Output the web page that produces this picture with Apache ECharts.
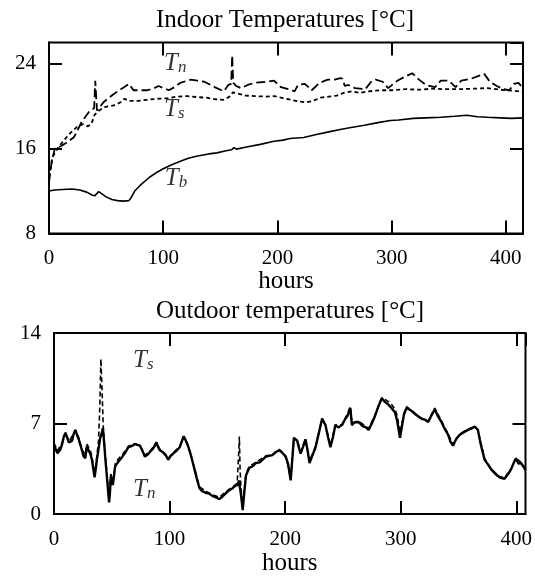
<!DOCTYPE html>
<html>
<head>
<meta charset="utf-8">
<script src="https://cdn.jsdelivr.net/npm/echarts@6/dist/echarts.min.js"></script>
<style>
  html, body { margin: 0; padding: 0; background: #fff; }
  #chart { width: 535px; height: 577px; }
</style>
</head>
<body>
<div id="chart"></div>
<script>
// ---- Indoor temperatures [°C] : [hour, value] ----
const indoorTn = [
  [0,12.8],[2,14.5],[5,16.0],[10,16.2],[16,16.6],[22,17.1],[29,18.6],[36,19.6],[39.5,19.8],[40.5,22.4],[42,19.6],
  [48,20.4],[55,21.0],[60,21.4],[66,21.8],[70,22.1],[74,21.5],[80,21.5],[86,21.5],[92,21.7],[96,21.9],[100,21.7],
  [105,21.5],[110,21.8],[115,22.2],[124,22.5],[130,22.4],[136,22.3],[145,21.8],[153,21.4],[157,22.0],[159.5,22.1],
  [160.4,24.8],[161.3,22.2],[164,21.9],[168,21.7],[174,22.0],[180,22.2],[190,22.3],[197,22.4],[203,21.8],[210,21.6],
  [215,21.4],[218,22.0],[224,22.1],[230,21.5],[237,22.2],[244,22.5],[250,22.5],[255,22.65],[257,22.6],[259,21.9],
  [262,22.0],[268,21.7],[277,21.6],[282,22.3],[286,22.5],[292,22.3],[297,21.7],[305,22.4],[312,22.8],[318,23.1],
  [324,22.5],[330,22.0],[338,21.8],[343,22.4],[350,22.4],[356,21.8],[361,22.4],[370,22.6],[381,23.05],[386,22.3],
  [392,21.9],[398,21.6],[403,21.5],[407,22.1],[411,22.2],[415,21.7]
];
const indoorTs = [
  [0,13.3],[3,15.2],[8,16.1],[14,16.9],[19,17.5],[25,18.1],[30,18.3],[34,18.1],[37,18.3],[40,19.2],[44,19.6],
  [48,19.9],[53,20.0],[58,20.1],[63,20.4],[66,20.7],[70,20.5],[78,20.5],[86,20.6],[95,20.7],[104,20.75],[112,20.9],
  [121,20.95],[130,20.85],[138,20.8],[146,20.65],[153,20.6],[158,20.9],[161,21.3],[165,21.2],[172,21.0],[180,20.95],
  [190,20.9],[197,20.95],[205,20.75],[212,20.6],[218,20.45],[225,20.35],[231,20.5],[238,20.8],[245,20.9],[252,21.0],
  [258,21.25],[265,21.4],[272,21.25],[280,21.4],[290,21.5],[300,21.5],[313,21.6],[325,21.55],[335,21.65],[348,21.6],
  [360,21.6],[372,21.65],[384,21.7],[395,21.55],[407,21.45],[415,21.35]
];
const indoorTb = [
  [0,12.0],[5,12.1],[12,12.15],[20,12.2],[27,12.1],[33,11.9],[38,11.6],[40,11.55],[43.5,11.95],[46,11.75],[50,11.45],
  [55,11.2],[60,11.1],[65,11.05],[70,11.1],[72,11.4],[75,12.0],[80,12.55],[88,13.3],[95,13.8],[100,14.1],[108,14.5],
  [115,14.8],[122,15.1],[130,15.3],[140,15.5],[147,15.6],[155,15.8],[160,15.9],[162,16.1],[164,15.95],[173,16.15],
  [185,16.4],[197,16.7],[205,16.8],[211,16.95],[223,17.05],[235,17.35],[246,17.6],[255,17.8],[262,17.95],[276,18.2],
  [288,18.45],[299,18.65],[306,18.7],[319,18.85],[330,18.9],[343,18.95],[355,19.05],[366,19.15],[375,19.0],
  [384,18.95],[395,18.9],[405,18.85],[415,18.9]
];

// ---- Outdoor temperatures [°C] : [hour, value] ----
const outdoorTn = [
  [0,5.3],[1.3,5.17],[3,4.7],[4.2,4.56],[5.5,5.0],[7,5.41],[8.5,6.0],[9.9,6.27],[11.5,5.9],[12.8,5.54],[14.2,5.5],
  [15.6,5.66],[17,6.2],[18.5,6.51],[20,6.1],[21.4,5.78],[23,5.3],[24.2,4.93],[25.5,4.5],[27.1,4.32],[28.5,5.29],
  [30,4.9],[31.4,4.68],[32.8,4.2],[34,3.5],[35.1,2.85],[36,3.4],[37.1,4.2],[38.5,5.0],[40,5.9],[41.4,6.27],[42.3,6.65],
  [43.3,5.6],[44.3,4.44],[45.7,2.98],[46.7,1.9],[47.7,0.9],[48.5,1.8],[49.2,2.98],[50.2,2.6],[50.9,2.24],[52,3.0],
  [52.9,3.7],[54.5,3.9],[55.8,4.07],[58,4.3],[60.1,4.56],[62,4.8],[64.4,5.17],[67,5.25],[70.1,5.41],[72,5.35],
  [74.4,5.29],[76.5,4.9],[78.7,4.44],[81,4.6],[83,4.8],[86,5.1],[88.7,5.54],[90,5.2],[91.6,4.93],[94,4.8],[96.5,4.6],
  [98.8,4.2],[101,4.5],[103,4.68],[106,4.9],[108.8,5.17],[110.5,5.6],[112.2,6.02],[114,5.7],[115.9,5.29],[118,4.7],
  [120.2,3.95],[122,3.3],[124,2.6],[125.9,2.0],[128,1.8],[131.6,1.63],[134,1.6],[137.4,1.39],[140,1.3],[143.1,1.15],
  [145,1.3],[148.8,1.63],[151,1.8],[154.6,2.0],[157,2.2],[158.9,2.24],[160,2.6],[161,2.0],[161.8,1.51],[163.3,0.3],
  [164.5,1.5],[166.1,2.98],[169,3.58],[172,3.7],[174.7,3.95],[178,4.0],[183.3,4.44],[186,4.5],[189,4.56],[192,4.8],
  [194.8,4.93],[197,4.8],[200.5,4.44],[202.5,3.9],[204.8,2.61],[206,4.0],[207.6,5.9],[209,5.8],[210.5,5.66],[212,5.1],
  [213.4,4.68],[215.5,5.2],[217.6,5.78],[219.5,4.9],[221.1,3.95],[223.5,4.5],[226.3,5.17],[229,6.2],[232,7.37],
  [234.9,6.88],[237,6.0],[239.2,5.17],[241.5,6.0],[243.5,6.88],[246,6.7],[249.2,6.88],[252.1,7.37],[254,7.6],
  [256.4,8.22],[257.8,6.88],[260,7.1],[263.6,7.12],[267,6.8],[270,6.7],[272.2,6.51],[275,7.0],[277.9,7.61],[281,8.4],
  [283.7,8.95],[286,8.7],[289.4,8.46],[292,8.2],[295.1,7.85],[297,7.2],[299.4,5.9],[301.5,7.0],[303,7.8],[305.2,8.22],
  [307,8.1],[309.4,7.98],[313,7.7],[318,7.37],[321,7.3],[323.8,7.12],[326.5,7.6],[329.5,8.1],[332,7.6],[335.3,7.12],
  [338,6.6],[341,6.14],[343,5.6],[345.3,5.29],[348,5.8],[351.1,6.14],[354,6.3],[358.2,6.51],[361,6.6],[364,6.76],
  [366.8,6.51],[369,5.5],[372.6,4.2],[375,3.9],[378.3,3.46],[382,3.1],[385.5,2.85],[389.8,2.73],[393,3.1],[395.5,3.46],
  [398,4.0],[399.8,4.32],[402,3.9],[404.1,3.95],[406,3.7],[408,3.4]
];
const outdoorTs = [
  [0,5.5],[3,4.9],[7,5.5],[10,6.3],[13,5.6],[18.5,6.5],[21.5,5.9],[24,5.0],[27,4.6],[28.5,5.4],[31.5,4.9],[33,4.4],
  [35.1,3.0],[37,4.4],[38.5,5.6],[39.6,8.2],[40.6,12.0],[41.6,9.5],[42.6,6.8],[44.3,4.6],[45.7,3.2],[47.7,1.2],
  [49.2,3.1],[51,2.5],[53,3.9],[56,4.3],[60,4.7],[64.4,5.25],[70,5.45],[74.4,5.3],[78.7,4.55],[83,4.85],[88.7,5.55],
  [91.6,5.0],[98.8,4.3],[103,4.75],[108.8,5.2],[112.2,6.0],[115.9,5.35],[120.2,4.0],[125.9,2.1],[131.6,1.75],
  [137.4,1.5],[143.1,1.3],[148.8,1.75],[154.6,2.1],[158.5,2.4],[159.7,4.5],[160.4,6.0],[161,3.5],[161.8,2.0],
  [163.3,0.8],[166.1,3.1],[169,3.7],[174.7,4.0],[183.3,4.5],[189,4.6],[194.8,5.0],[200.5,4.5],[204.8,2.8],[207.6,5.9],
  [210.5,5.7],[213.4,4.8],[217.6,5.8],[221.1,4.1],[226.3,5.2],[232,7.4],[234.9,6.9],[239.2,5.3],[243.5,6.9],
  [249.2,6.9],[252.1,7.4],[256.4,8.3],[257.8,7.0],[263.6,7.2],[272.2,6.6],[277.9,7.7],[283.7,9.0],[286,8.9],
  [289.4,8.7],[292,8.5],[295.1,8.1],[297,7.6],[299.4,6.3],[301.5,7.2],[305.2,8.3],[309.4,8.0],[318,7.4],[323.8,7.2],
  [329.5,8.2],[335.3,7.2],[341,6.2],[345.3,5.4],[351.1,6.2],[358.2,6.55],[364,6.8],[366.8,6.5],[372.6,4.3],
  [378.3,3.5],[385.5,2.9],[389.8,2.8],[395.5,3.5],[399.8,4.35],[404.1,4.0],[408,3.5]
];

// Axis extents and tick steps
const indoorX = { min: 0, max: 415, step: 100 };
const indoorY = { min: 8, max: 26, step: 8 };
const outdoorX = { min: 0, max: 408, step: 100 };
const outdoorY = { min: 0, max: 14, step: 7 };

// Curve name tags: [hour, value, subscript]
const indoorTags = [[100.3, 24.1, 'n'], [100.3, 19.76, 's'], [101, 13.25, 'b']];
const outdoorTags = [[68, 11.94, 's'], [68, 1.94, 'n']];

const FONT = '"Liberation Serif", "DejaVu Serif", serif';
const INK = '#000';

const tick = { show: true, inside: true, length: 13, lineStyle: { color: INK, width: 2 } };

function axesFor(grid, xr, yr, labelMarginX, labelMarginY, nameGap) {
  const xMain = {
    type: 'value', gridIndex: grid, position: 'bottom', min: xr.min, max: xr.max, interval: xr.step,
    splitLine: { show: false }, axisLine: { show: true, onZero: false, lineStyle: { color: INK, width: 2 } },
    axisTick: tick,
    axisLabel: { color: INK, fontFamily: FONT, fontSize: 21, margin: labelMarginX, showMaxLabel: xr.max % xr.step === 0 },
    name: 'hours', nameLocation: 'middle', nameGap: nameGap,
    nameTextStyle: { color: INK, fontFamily: FONT, fontSize: 25 }
  };
  const xMirror = {
    type: 'value', gridIndex: grid, position: 'top', min: xr.min, max: xr.max, interval: xr.step,
    splitLine: { show: false }, axisLine: { show: false, onZero: false }, axisTick: tick, axisLabel: { show: false }
  };
  const yMain = {
    type: 'value', gridIndex: grid, position: 'left', min: yr.min, max: yr.max, interval: yr.step,
    splitLine: { show: false }, axisLine: { show: true, onZero: false, lineStyle: { color: INK, width: 2 } },
    axisTick: tick,
    axisLabel: { color: INK, fontFamily: FONT, fontSize: 21, margin: labelMarginY, showMaxLabel: yr.max % yr.step === 0 }
  };
  const yMirror = {
    type: 'value', gridIndex: grid, position: 'right', min: yr.min, max: yr.max, interval: yr.step,
    splitLine: { show: false }, axisLine: { show: false, onZero: false }, axisTick: tick, axisLabel: { show: false }
  };
  return { x: [xMain, xMirror], y: [yMain, yMirror] };
}

const topAxes = axesFor(0, indoorX, indoorY, 14, 13, 32);
const botAxes = axesFor(1, outdoorX, outdoorY, 15, 13, 33);

function curve(name, data, axisBase, width, dash) {
  return {
    name: name, type: 'line', data: data, xAxisIndex: axisBase, yAxisIndex: axisBase,
    showSymbol: false, symbol: 'none', smooth: false, animation: false,
    lineStyle: { color: INK, width: width, type: dash || 'solid' }
  };
}

function tags(data, axisBase) {
  return {
    type: 'scatter', xAxisIndex: axisBase, yAxisIndex: axisBase, animation: false, silent: true,
    symbolSize: 1, itemStyle: { color: 'rgba(0,0,0,0)' },
    data: data.map(d => ({ value: [d[0], d[1]], sub: d[2] })),
    label: {
      show: true, position: 'right', distance: 0,
      formatter: p => '{t|T}{s|' + p.data.sub + '}',
      rich: {
        t: { fontFamily: FONT, fontStyle: 'italic', fontSize: 25, color: INK, lineHeight: 26, verticalAlign: 'bottom' },
        s: { fontFamily: FONT, fontStyle: 'italic', fontSize: 17, color: INK, lineHeight: 14, verticalAlign: 'bottom' }
      }
    }
  };
}

const chart = echarts.init(document.getElementById('chart'), null, { renderer: 'canvas' });
chart.setOption({
  animation: false,
  backgroundColor: '#fff',
  title: [
    { text: 'Indoor Temperatures [°C]', left: 285, top: 8, padding: 0, textAlign: 'center',
      textStyle: { fontFamily: FONT, fontWeight: 'normal', fontSize: 25, color: INK } },
    { text: 'Outdoor temperatures [°C]', left: 290, top: 299, padding: 0, textAlign: 'center',
      textStyle: { fontFamily: FONT, fontWeight: 'normal', fontSize: 25, color: INK } }
  ],
  grid: [
    { left: 49, top: 42.5, width: 474, height: 191, show: true, borderColor: INK, borderWidth: 2, backgroundColor: 'transparent' },
    { left: 54, top: 333, width: 474, height: 191, show: true, borderColor: INK, borderWidth: 2, backgroundColor: 'transparent' }
  ],
  xAxis: topAxes.x.concat(botAxes.x),
  yAxis: topAxes.y.concat(botAxes.y),
  series: [
    curve('Tb', indoorTb, 0, 1.6),
    curve('Ts', indoorTs, 0, 1.8, [4, 3]),
    curve('Tn', indoorTn, 0, 1.8, [9, 4]),
    tags(indoorTags, 0),
    curve('Tn out', outdoorTn, 2, 2.4),
    curve('Ts out', outdoorTs, 2, 1.6, [5, 3]),
    tags(outdoorTags, 2)
  ]
});
</script>
</body>
</html>
